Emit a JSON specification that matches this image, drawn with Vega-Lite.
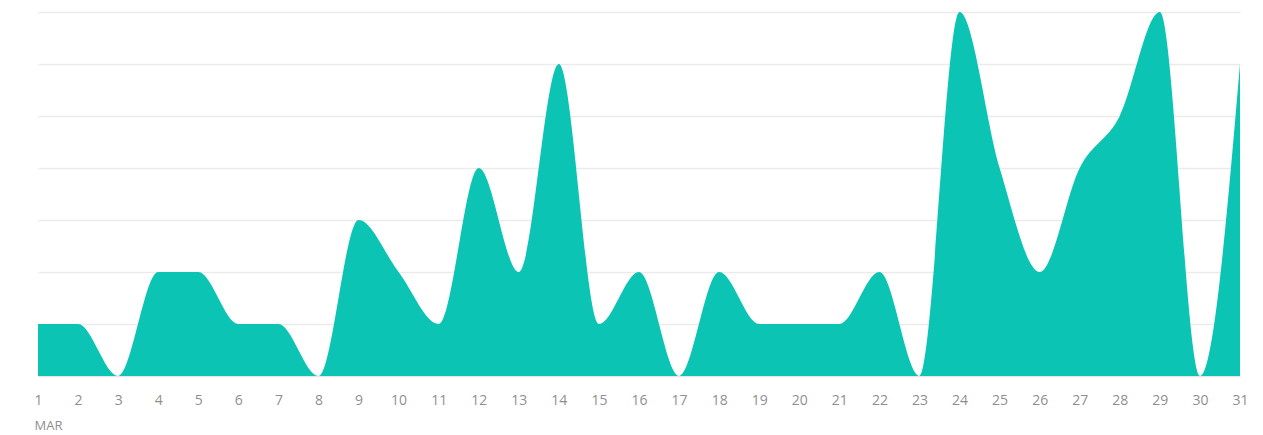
{
  "$schema": "https://vega.github.io/schema/vega-lite/v6.json",
  "width": 1202,
  "height": 364,
  "autosize": {"type": "none"},
  "padding": {"left": 38, "top": 12, "right": 23, "bottom": 59},
  "background": "white",
  "config": {"view": {"stroke": null}},
  "data": {
    "values": [
      {"day": 1, "count": 1}, {"day": 2, "count": 1}, {"day": 3, "count": 0},
      {"day": 4, "count": 2}, {"day": 5, "count": 2}, {"day": 6, "count": 1},
      {"day": 7, "count": 1}, {"day": 8, "count": 0}, {"day": 9, "count": 3},
      {"day": 10, "count": 2}, {"day": 11, "count": 1}, {"day": 12, "count": 4},
      {"day": 13, "count": 2}, {"day": 14, "count": 6}, {"day": 15, "count": 1},
      {"day": 16, "count": 2}, {"day": 17, "count": 0}, {"day": 18, "count": 2},
      {"day": 19, "count": 1}, {"day": 20, "count": 1}, {"day": 21, "count": 1},
      {"day": 22, "count": 2}, {"day": 23, "count": 0}, {"day": 24, "count": 7},
      {"day": 25, "count": 4}, {"day": 26, "count": 2}, {"day": 27, "count": 4},
      {"day": 28, "count": 5}, {"day": 29, "count": 7}, {"day": 30, "count": 0},
      {"day": 31, "count": 6}
    ]
  },
  "mark": {"type": "area", "interpolate": "monotone", "color": "#0cc4b3"},
  "encoding": {
    "x": {
      "field": "day",
      "type": "quantitative",
      "scale": {"domain": [1, 31], "nice": false, "zero": false},
      "axis": {
        "values": [1,2,3,4,5,6,7,8,9,10,11,12,13,14,15,16,17,18,19,20,21,22,23,24,25,26,27,28,29,30,31],
        "grid": false,
        "ticks": false,
        "domain": true,
        "domainColor": "#e6e6e6",
        "labelFont": "Open Sans",
        "labelFontSize": 14,
        "labelColor": "#8f8f8f",
        "labelPadding": 17,
        "labelFlush": false,
        "title": "MAR",
        "titleFont": "Open Sans",
        "titleFontSize": 13,
        "titleFontWeight": "normal",
        "titleColor": "#8f8f8f",
        "titleAnchor": "start",
        "titleAlign": "left",
        "titleBaseline": "alphabetic",
        "titleX": -4,
        "titleY": 53
      }
    },
    "y": {
      "field": "count",
      "type": "quantitative",
      "scale": {"domain": [0, 7], "nice": false},
      "axis": {
        "values": [0,1,2,3,4,5,6,7],
        "grid": true,
        "gridColor": "#ebebeb",
        "gridWidth": 1.5,
        "labels": false,
        "ticks": false,
        "domain": false,
        "title": null
      }
    }
  }
}
